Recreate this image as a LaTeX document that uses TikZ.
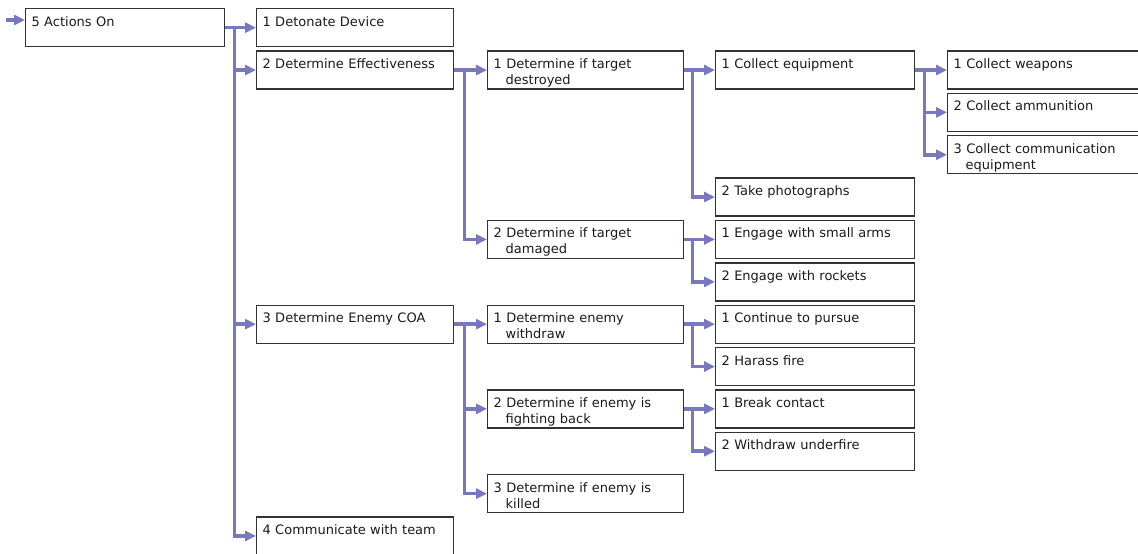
\documentclass[tikz,border=0pt]{standalone}
\usepackage{fontspec}
\setmainfont{DejaVu Sans}
\usepackage{tikz}
\usetikzlibrary{arrows.meta,calc}
\definecolor{linkc}{HTML}{7878C0}
\definecolor{boxc}{HTML}{333333}
\definecolor{txtc}{HTML}{1A1A1A}

\begin{document}
\begin{tikzpicture}[
  x=1pt, y=-1pt,
  box/.style={draw=boxc, line width=1.3pt, anchor=north west, text width=#1,
              align=left, text height=17.5pt, text depth=20.5pt,
              inner xsep=6pt, inner ysep=0pt, text=txtc},
  link/.style={draw=linkc, line width=3.6pt, -{Triangle[length=11pt,width=10pt]}},
  font=\fontsize{13}{16}\selectfont
]
\useasboundingbox (0,0) rectangle (1138,554);
\clip (0,0) rectangle (1138,554);

% root and first level
\node[box=187pt] (act) at (25,8) {5 Actions On};
\node[box=185pt] (det) at (256,8)     {1 Detonate Device};
\node[box=185pt] (eff) at (256,50.4)  {2 Determine Effectiveness};
\node[box=185pt] (coa) at (256,304.5) {3 Determine Enemy COA};
\node[box=185pt] (com) at (256,516.3) {4 Communicate with team};

% second level
\node[box=184pt] (effA) at (487,50.4)  {1 Determine if target\\\hspace*{12pt}destroyed};
\node[box=184pt] (effB) at (487,219.8) {2 Determine if target\\\hspace*{12pt}damaged};
\node[box=184pt] (coaA) at (487,304.5) {1 Determine enemy\\\hspace*{12pt}withdraw};
\node[box=184pt] (coaB) at (487,389.2) {2 Determine if enemy is\\\hspace*{12pt}fighting back};
\node[box=184pt] (coaC) at (487,474)   {3 Determine if enemy is\\\hspace*{12pt}killed};

% third level
\node[box=187pt] (equip)  at (715,50.4)  {1 Collect equipment};
\node[box=187pt] (photo)  at (715,177.4) {2 Take photographs};
\node[box=187pt] (small)  at (715,219.8) {1 Engage with small arms};
\node[box=187pt] (rocket) at (715,262.2) {2 Engage with rockets};
\node[box=187pt] (pursue) at (715,304.5) {1 Continue to pursue};
\node[box=187pt] (harass) at (715,346.9) {2 Harass fire};
\node[box=187pt] (brk)    at (715,389.2) {1 Break contact};
\node[box=187pt] (wdraw)  at (715,431.6) {2 Withdraw underfire};

% fourth level (runs off the right edge)
\node[box=218pt] (weap)  at (947,50.4)  {1 Collect weapons};
\node[box=218pt] (ammo)  at (947,92.7)  {2 Collect ammunition};
\node[box=218pt] (comms) at (947,135.1) {3 Collect communication\\\hspace*{12pt}equipment};

% connectors
\coordinate (start) at (6,20);
\draw[link] (start) -- (act.west |- start);
\foreach \c in {det,eff,coa,com}
  \draw[link] (act.east) -- ++(9,0) |- (\c.west);
\foreach \c in {effA,effB}
  \draw[link] (eff.east) -- ++(10,0) |- (\c.west);
\foreach \c in {coaA,coaB,coaC}
  \draw[link] (coa.east) -- ++(10,0) |- (\c.west);
\foreach \c in {equip,photo}
  \draw[link] (effA.east) -- ++(8,0) |- (\c.west);
\foreach \c in {small,rocket}
  \draw[link] (effB.east) -- ++(8,0) |- (\c.west);
\foreach \c in {pursue,harass}
  \draw[link] (coaA.east) -- ++(8,0) |- (\c.west);
\foreach \c in {brk,wdraw}
  \draw[link] (coaB.east) -- ++(8,0) |- (\c.west);
\foreach \c in {weap,ammo,comms}
  \draw[link] (equip.east) -- ++(9,0) |- (\c.west);
\end{tikzpicture}
\end{document}
